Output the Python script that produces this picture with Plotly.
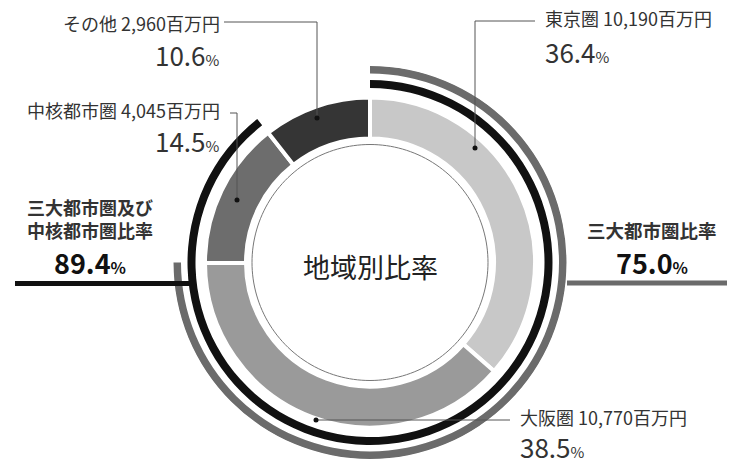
import plotly.graph_objects as go

# ---- data ----
regions = ["東京圏", "大阪圏", "中核都市圏", "その他"]
amounts = [10190, 10770, 4045, 2960]          # 百万円
shares = [36.4, 38.5, 14.5, 10.6]             # %
seg_colors = ["#c8c8c8", "#9a9a9a", "#6d6d6d", "#353535"]
ratio_three = 75.0        # 三大都市圏比率
ratio_three_core = 89.4   # 三大都市圏及び中核都市圏比率
center_title = "地域別比率"

W, H = 732, 464
CX, CY = 370, 262.5
R = 197
FONT = "Noto Sans CJK JP"

def px(x):
    return x / W

def py(y):
    return 1 - y / H

total = sum(amounts)
deg = [a / total * 360 for a in amounts]
starts = [sum(deg[:i]) for i in range(len(deg))]
mids = [s + d / 2 for s, d in zip(starts, deg)]

fig = go.Figure()

# donut segments
fig.add_trace(go.Barpolar(
    theta=mids, width=deg, r=[165 - 124] * 4, base=[124] * 4,
    marker=dict(color=seg_colors, line=dict(color="white", width=4)),
    hoverinfo="skip", showlegend=False))

# black arc: 三大都市圏及び中核都市圏
a2 = ratio_three_core / 100 * 360
fig.add_trace(go.Barpolar(
    theta=[a2 / 2], width=[a2], r=[8], base=[174.5],
    marker=dict(color="#111111", line=dict(width=0)),
    hoverinfo="skip", showlegend=False))

# gray arc: 三大都市圏
a1 = ratio_three / 100 * 360
fig.add_trace(go.Barpolar(
    theta=[a1 / 2], width=[a1], r=[7.5], base=[189],
    marker=dict(color="#6b6b6b", line=dict(width=0)),
    hoverinfo="skip", showlegend=False))

# thin inner circle
th = [i for i in range(0, 361, 2)]
fig.add_trace(go.Scatterpolar(
    r=[118] * len(th), theta=th, mode="lines",
    line=dict(color="#777777", width=1), hoverinfo="skip", showlegend=False))

fig.update_layout(
    width=W, height=H,
    margin=dict(l=0, r=0, t=0, b=0),
    paper_bgcolor="white",
    polar=dict(
        domain=dict(x=[px(CX - R), px(CX + R)], y=[py(CY + R), py(CY - R)]),
        bgcolor="white",
        radialaxis=dict(range=[0, R], visible=False, showgrid=False),
        angularaxis=dict(rotation=90, direction="clockwise", visible=False, showgrid=False),
        barmode="overlay",
    ),
)

shapes = []
LC = "#555555"

def seg(x0, y0, x1, y1, color=LC, w=1):
    shapes.append(dict(type="line", xref="paper", yref="paper",
                       x0=px(x0), y0=py(y0), x1=px(x1), y1=py(y1),
                       line=dict(color=color, width=w)))

def dot(x, y, rr=2.5):
    shapes.append(dict(type="circle", xref="paper", yref="paper",
                       x0=px(x - rr), y0=py(y - rr), x1=px(x + rr), y1=py(y + rr),
                       fillcolor="#111111", line=dict(width=0)))

# leader lines
seg(475, 148, 475, 21); seg(475, 21, 535, 21); dot(475, 148)      # 東京圏
seg(317, 118, 317, 22); seg(317, 22, 224, 22); dot(317, 118)      # その他
seg(237, 200, 237, 113); seg(237, 113, 230, 113); dot(237, 200)   # 中核都市圏
seg(316, 420, 510, 420); dot(316, 420)                            # 大阪圏

# ratio lines
seg(15, 283.5, 195, 283.5, color="#111111", w=5)
seg(567, 283, 727, 283, color="#6b6b6b", w=5)

fig.update_layout(shapes=shapes)

ann = []

def text(x, y, s, size, anchor, color="#333333"):
    ann.append(dict(x=px(x), y=py(y), xref="paper", yref="paper", text=s,
                    showarrow=False, xanchor=anchor, yanchor="middle",
                    font=dict(family=FONT, size=size, color=color)))

def pct(v, small=15, bold=False):
    s = f"{v:.1f}<span style='font-size:{small}px'>%</span>"
    return f"<b>{s}</b>" if bold else s

lab = {r: f"{r} {a:,}百万円" for r, a in zip(regions, amounts)}

LS, PS = 18, 26
# 東京圏
text(543, 18, lab["東京圏"], LS, "left")
text(543, 52, pct(shares[0]), PS, "left")
# 大阪圏
text(518, 417, lab["大阪圏"], LS, "left")
text(518, 446, pct(shares[1]), PS, "left")
# 中核都市圏
text(222, 110, lab["中核都市圏"], LS, "right")
text(222, 140, pct(shares[2]), PS, "right")
# その他
text(222, 23, lab["その他"], LS, "right")
text(222, 54, pct(shares[3]), PS, "right")

# left summary
text(90, 218, "<b>三大都市圏及び<br>中核都市圏比率</b>", 18, "center")
text(90, 262, pct(ratio_three_core, 16, bold=True), 27, "center", color="#111111")
# right summary
text(652, 230, "<b>三大都市圏比率</b>", 18.5, "center")
text(652, 262, pct(ratio_three, 16, bold=True), 27, "center", color="#111111")

# center
text(370, 266, center_title, 27, "center", color="#222222")

fig.update_layout(annotations=ann)
fig.write_html("out.html", post_script="document.body.style.margin='0';",
               config={"displayModeBar": False})
